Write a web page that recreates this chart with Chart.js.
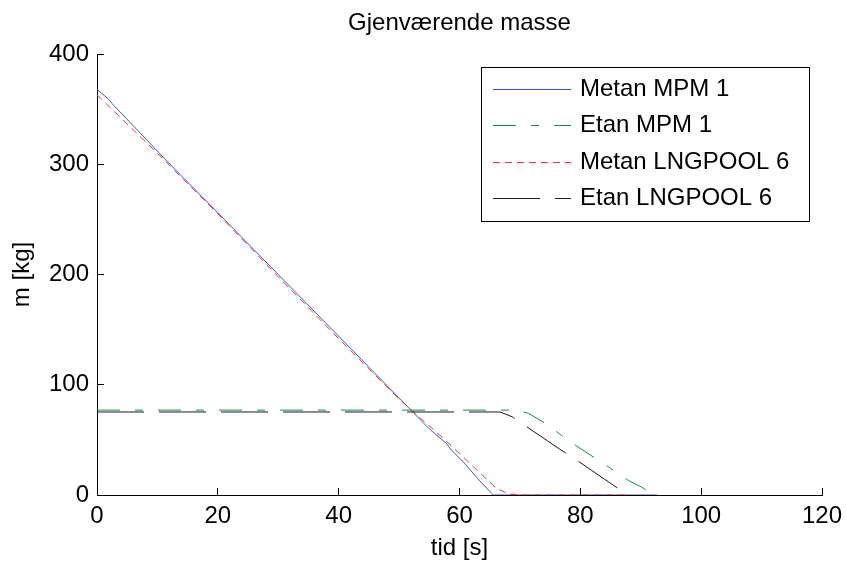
<!DOCTYPE html>
<html>
<head>
<meta charset="utf-8">
<script src="https://cdn.jsdelivr.net/npm/chart.js@4/dist/chart.umd.min.js"></script>
<style>
html, body { margin: 0; padding: 0; background: #fff; }
</style>
</head>
<body>
<canvas id="myChart" width="846" height="563"></canvas>
<script>
var chartTitle = 'Gjenværende masse';
var xLabel = 'tid [s]';
var yLabel = 'm [kg]';
var seriesNames = ['Metan MPM 1', 'Etan MPM 1', 'Metan LNGPOOL 6', 'Etan LNGPOOL 6'];
var xTicks = [0, 20, 40, 60, 80, 100, 120];
var yTicks = [0, 100, 200, 300, 400];

// Metan MPM 1
var metanMpmTime = [0, 2, 2.5, 11.2, 20, 30, 40, 50, 55, 57.8, 58.9, 60.6, 63, 65.3, 65.6, 80, 92.7];
var metanMpmMass = [368, 358.5, 355, 305, 256, 200, 144, 88, 60, 46.9, 39.3, 30.2, 15, 1.5, 0, 0, 0];

// Etan MPM 1
var etanMpmTime = [0, 69.5, 71.4, 74.4, 77.3, 79.4, 85, 88, 90.2, 91.5, 92.9];
var etanMpmMass = [77, 77, 74.1, 64.4, 52.3, 44.4, 24.2, 13, 7, 2, 0];

// Metan LNGPOOL 6
var metanPoolTime = [0, 10, 20, 30, 41.3, 50, 57.3, 62.3, 66.1, 68.1, 70, 88];
var metanPoolMass = [363, 310, 255, 198, 134.5, 87, 51.4, 25.7, 6, 1, 0, 0];

// Etan LNGPOOL 6
var etanPoolTime = [0, 66.7, 68.7, 70.7, 76.6, 78.7, 87.7, 88];
var etanPoolMass = [75.3, 75.3, 71, 63.5, 41.5, 34.2, 0.5, 0];

function toPoints(t, m) {
    return t.map(function(v, i) { return { x: v, y: m[i] }; });
}

var fontFamily = '"Liberation Sans", Arial, Helvetica, sans-serif';
Chart.defaults.font.family = fontFamily;
Chart.defaults.font.size = 24;
Chart.defaults.color = '#000';

var titleAndLegend = {
    id: 'titleAndLegend',
    afterDraw: function(chart) {
        var ctx = chart.ctx;
        var area = chart.chartArea;
        ctx.save();
        // title
        ctx.fillStyle = '#000';
        ctx.font = '24px ' + fontFamily;
        ctx.textAlign = 'center';
        ctx.textBaseline = 'alphabetic';
        ctx.fillText(chartTitle, (area.left + area.right) / 2, 30);
        // legend box
        ctx.fillStyle = '#fff';
        ctx.fillRect(481.5, 67.5, 328, 154);
        ctx.strokeStyle = '#000';
        ctx.lineWidth = 1;
        ctx.strokeRect(481.5, 67.5, 328, 154);
        chart.data.datasets.forEach(function(ds, i) {
            var y = Math.round(89 + i * 36.3) + 0.5;
            ctx.strokeStyle = ds.borderColor;
            ctx.lineWidth = ds.borderWidth;
            ctx.setLineDash(ds.borderDash || []);
            ctx.beginPath();
            ctx.moveTo(493, y);
            ctx.lineTo(571, y);
            ctx.stroke();
            ctx.setLineDash([]);
            ctx.fillStyle = '#000';
            ctx.textAlign = 'left';
            ctx.textBaseline = 'middle';
            ctx.fillText(ds.label, 580, y);
        });
        ctx.restore();
    }
};

var ctx = document.getElementById('myChart').getContext('2d');
var myChart = new Chart(ctx, {
    type: 'line',
    data: {
        datasets: [{
            label: seriesNames[0],
            data: toPoints(metanMpmTime, metanMpmMass),
            borderColor: '#3a5cc8',
            borderWidth: 1,
            order: 4
        },
        {
            label: seriesNames[1],
            data: toPoints(etanMpmTime, etanMpmMass),
            borderColor: '#1f8a48',
            borderWidth: 1,
            borderDash: [23, 15, 8, 15],
            order: 3
        },
        {
            label: seriesNames[2],
            data: toPoints(metanPoolTime, metanPoolMass),
            borderColor: '#ff3535',
            borderWidth: 1,
            borderDash: [7, 5],
            order: 2
        },
        {
            label: seriesNames[3],
            data: toPoints(etanPoolTime, etanPoolMass),
            borderColor: '#1a1a1a',
            borderWidth: 1,
            borderDash: [47, 15],
            order: 1
        }]
    },
    options: {
        responsive: false,
        animation: false,
        elements: {
            point: { radius: 0, hoverRadius: 0 },
            line: { tension: 0, fill: false }
        },
        layout: {
            padding: { top: 54, right: 24, bottom: 0, left: 0 }
        },
        plugins: {
            legend: { display: false },
            title: { display: false },
            tooltip: { enabled: false }
        },
        scales: {
            x: {
                type: 'linear',
                min: xTicks[0],
                max: xTicks[xTicks.length - 1],
                afterBuildTicks: function(scale) {
                    scale.ticks = xTicks.map(function(v) { return { value: v }; });
                },
                afterFit: function(scale) {
                    scale.height = 68;
                    scale.paddingLeft = 0;
                    scale.paddingRight = 0;
                },
                ticks: { padding: 14, color: '#000', font: { size: 24 }, maxRotation: 0, autoSkip: false },
                grid: { drawOnChartArea: false, drawTicks: true, tickLength: -7, color: '#000', lineWidth: 1 },
                border: { display: true, color: '#000', width: 1 },
                title: { display: true, text: xLabel, color: '#000', font: { size: 24 }, padding: { top: 0, bottom: 0 } }
            },
            y: {
                type: 'linear',
                min: yTicks[0],
                max: yTicks[yTicks.length - 1],
                afterBuildTicks: function(scale) {
                    scale.ticks = yTicks.map(function(v) { return { value: v }; });
                },
                afterFit: function(scale) {
                    scale.width = 97;
                    scale.paddingTop = 0;
                    scale.paddingBottom = 0;
                },
                ticks: { padding: 15, color: '#000', font: { size: 24 }, autoSkip: false },
                grid: { drawOnChartArea: false, drawTicks: true, tickLength: -7, color: '#000', lineWidth: 1 },
                border: { display: true, color: '#000', width: 1 },
                title: { display: true, text: yLabel, color: '#000', font: { size: 24 }, padding: { top: 8, bottom: 0 } }
            }
        }
    },
    plugins: [titleAndLegend]
});
</script>
</body>
</html>
